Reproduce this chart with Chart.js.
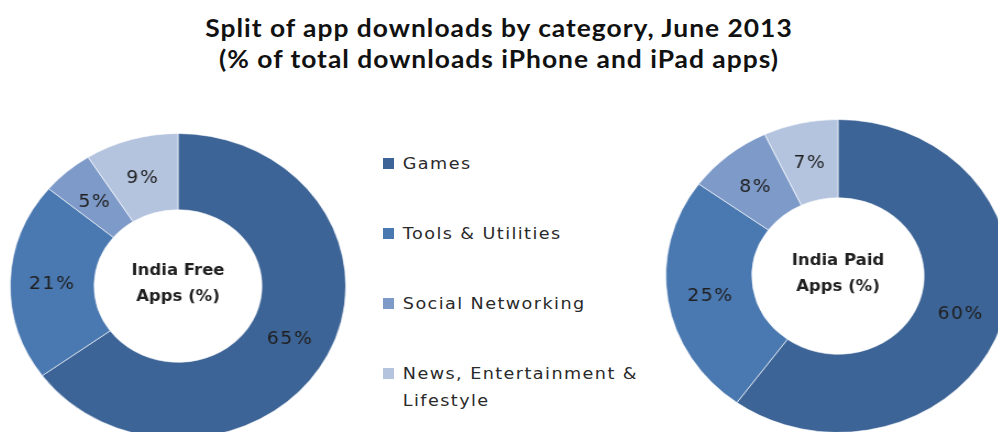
<!DOCTYPE html>
<html>
<head>
<meta charset="utf-8">
<script src="https://cdn.jsdelivr.net/npm/chart.js@4.4.1/dist/chart.umd.min.js"></script>
<style>
  html, body { margin: 0; padding: 0; background: #fff; }
  body { width: 998px; height: 432px; overflow: hidden; position: relative; }
  .title {
    position: absolute; left: 0; top: 12px; width: 998px;
    text-align: center; font-family: Lato, "Open Sans", sans-serif;
    font-weight: bold; font-size: 24px; line-height: 31px; color: #111;
    letter-spacing: 0.9px;
    transform: scaleX(1.1); transform-origin: center top;
  }
  .donut { position: absolute; transform: scaleX(1.1); transform-origin: center center; }
  #freeChart { left: 25px; top: 133px; }
  #paidChart { left: 681px; top: 119px; }
  #legend {
    position: absolute; left: 383px; top: 150px; width: 245px;
    font-family: "DejaVu Sans", Verdana, sans-serif; font-size: 16px; color: #2a2a2a;
    letter-spacing: 1.3px;
    transform: scaleX(1.1); transform-origin: left top;
  }
  #legend .item { position: relative; padding-left: 18px; line-height: 27px; height: 70px; }
  #legend .box { position: absolute; left: 0; top: 8px; width: 10px; height: 11px; }
</style>
</head>
<body>
<div class="title">Split of app downloads by category, June 2013<br>(% of total downloads iPhone and iPad apps)</div>
<canvas id="freeChart" class="donut" width="306" height="306"></canvas>
<div id="legend"></div>
<canvas id="paidChart" class="donut" width="314" height="314"></canvas>

<script>
// categories and shares (%)
const categories = ['Games', 'Tools & Utilities', 'Social Networking', 'News, Entertainment & Lifestyle'];
const freeShares = [65, 21, 5, 9];
const paidShares = [60, 25, 8, 7];
const sliceColors = ['#3d6496', '#4a78b0', '#7d9ac8', '#b4c4df'];

// draws the % on each slice and the caption in the hole
const sliceText = {
  id: 'sliceText',
  afterDatasetsDraw(chart, args, opts) {
    const ctx = chart.ctx;
    const meta = chart.getDatasetMeta(0);
    const values = chart.data.datasets[0].data;
    ctx.save();
    ctx.fillStyle = '#1f1f1f';
    ctx.textAlign = 'center';
    ctx.textBaseline = 'middle';
    ctx.font = '17px "DejaVu Sans", Verdana, sans-serif';
    ctx.letterSpacing = '1.5px';
    meta.data.forEach((arc, i) => {
      const p = arc.tooltipPosition();
      ctx.fillText(values[i] + '%', p.x, p.y + 2);
    });
    const cx = (chart.chartArea.left + chart.chartArea.right) / 2;
    const cy = (chart.chartArea.top + chart.chartArea.bottom) / 2;
    ctx.letterSpacing = '0px';
    ctx.font = 'bold 15px "DejaVu Sans", Verdana, sans-serif';
    ctx.fillText(opts.lines[0], cx, cy - 15);
    ctx.fillText(opts.lines[1], cx, cy + 11);
    ctx.restore();
  }
};

function makeDonut(id, values, caption) {
  return new Chart(document.getElementById(id), {
    type: 'doughnut',
    data: {
      labels: categories,
      datasets: [{
        data: values,
        backgroundColor: sliceColors,
        borderColor: 'rgba(255,255,255,0.6)',
        borderWidth: 1,
        offset: 0,
        hoverOffset: 0
      }]
    },
    options: {
      responsive: false,
      animation: false,
      cutout: '50%',
      layout: { padding: 0 },
      events: [],
      plugins: {
        legend: { display: false },
        tooltip: { enabled: false },
        sliceText: { lines: caption }
      }
    },
    plugins: [sliceText]
  });
}

makeDonut('freeChart', freeShares, ['India Free', 'Apps (%)']);
makeDonut('paidChart', paidShares, ['India Paid', 'Apps (%)']);

// shared legend in the middle
const legend = document.getElementById('legend');
categories.forEach((name, i) => {
  const item = document.createElement('div');
  item.className = 'item';
  const box = document.createElement('span');
  box.className = 'box';
  box.style.background = sliceColors[i];
  item.appendChild(box);
  item.appendChild(document.createTextNode(name));
  legend.appendChild(item);
});
</script>
</body>
</html>
